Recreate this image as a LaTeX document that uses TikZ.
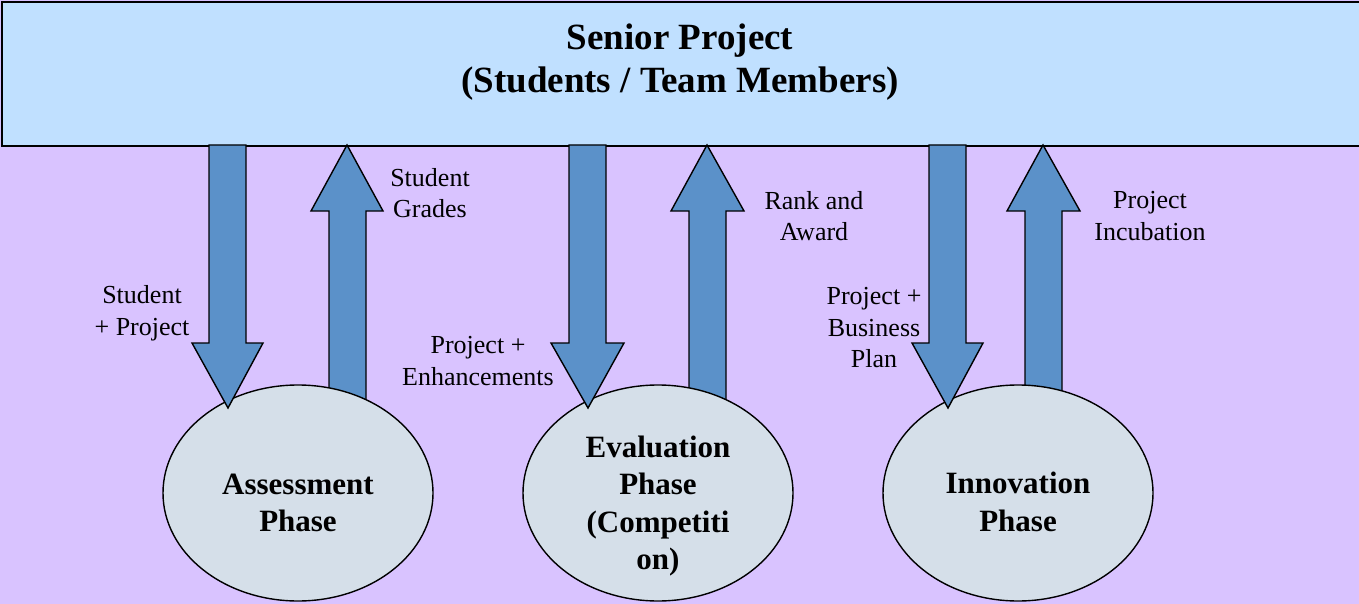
\documentclass[tikz,border=0pt]{standalone}
\usepackage{fontspec}
\setmainfont{Liberation Serif}
\definecolor{bgl}{RGB}{217,195,255}
\definecolor{topb}{RGB}{192,224,255}
\definecolor{arrb}{RGB}{91,145,201}
\definecolor{ellf}{RGB}{213,223,233}
\tikzset{
  blockarrow/.style={fill=arrb,draw=black,line width=1.4pt,line join=miter},
  phase/.style={ellipse,draw=black,line width=1.4pt,fill=ellf,minimum width=270pt,minimum height=216pt,inner sep=0pt},
  phasetext/.style={align=center,font=\fontsize{31}{37.5}\selectfont\bfseries,inner sep=0pt},
  lbl/.style={align=center,font=\fontsize{26}{31.5}\selectfont,inner sep=0pt},
}
\usetikzlibrary{shapes.geometric}
\begin{document}
\begin{tikzpicture}[x=1pt,y=-1pt]
\useasboundingbox (0,0) rectangle (1359,604);
\fill[bgl] (0,0) rectangle (1359,604);
% top box
\node[draw=black,line width=2pt,fill=topb,minimum width=1362pt,minimum height=143.5pt,inner sep=0pt,anchor=north west] (top) at (0.8,1.5) {};
\node[align=center,font=\fontsize{37}{43}\selectfont\bfseries,inner sep=0pt] (title) at (680,62) {Senior Project\\(Students / Team Members)};
% up arrows (behind ellipses)
\draw[blockarrow] (329,440) -- (329,211) -- (311,211) -- (347,145) -- (383,211) -- (366,211) -- (366,440) -- cycle;
\draw[blockarrow] (689,440) -- (689,211) -- (671,211) -- (707,145) -- (744,211) -- (726,211) -- (726,440) -- cycle;
\draw[blockarrow] (1025,440) -- (1025,211) -- (1007,211) -- (1043,145) -- (1080,211) -- (1062,211) -- (1062,440) -- cycle;
% phases
\node[phase] (assess) at (298,493) {};
\node[phase] (eval) at (658,493) {};
\node[phase] (innov) at (1018,493) {};
\node[phasetext] (assesst) at (298,503) {Assessment\\Phase};
\node[phasetext] (evalt) at (658,506) {Evaluation\\Phase\\(Competiti\\on)};
\node[phasetext] (innovt) at (1018,502) {Innovation\\Phase};
% down arrows (over ellipses)
\draw[blockarrow] (209,145) -- (246,145) -- (246,343) -- (263,343) -- (228,408) -- (192,343) -- (209,343) -- cycle;
\draw[blockarrow] (569,145) -- (606,145) -- (606,343) -- (624,343) -- (588,408) -- (551,343) -- (569,343) -- cycle;
\draw[blockarrow] (929,145) -- (966,145) -- (966,343) -- (983,343) -- (948,408) -- (912,343) -- (929,343) -- cycle;
% labels
\node[lbl] (l1) at (142,313) {Student\\+ Project};
\node[lbl] (l2) at (430,193) {Student\\Grades};
\node[lbl] (l3) at (478,361) {Project +\\Enhancements};
\node[lbl] (l4) at (814,216) {Rank and\\Award};
\node[lbl] (l5) at (874,328) {Project +\\Business\\Plan};
\node[lbl] (l6) at (1150,216) {Project\\Incubation};
\end{tikzpicture}
\end{document}
